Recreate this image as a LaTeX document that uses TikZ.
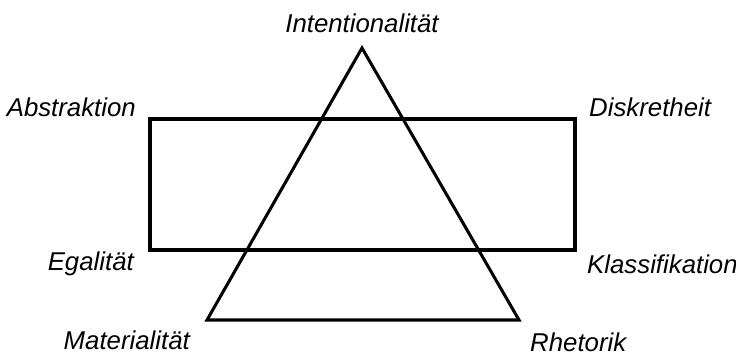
\documentclass[tikz,border=0pt]{standalone}
\usepackage{fontspec}
\setmainfont{Liberation Sans}
\usetikzlibrary{positioning}
\tikzset{
  lbl/.style={font=\fontsize{22}{26}\selectfont\itshape, inner sep=0pt},
  figline/.style={line width=2.6pt, line join=miter}
}
\begin{document}
\begin{tikzpicture}[x=0.03cm,y=-0.03cm]
\useasboundingbox (0,0) rectangle (736,355);
% corners
\coordinate (apex) at (362,48);
\coordinate (triL) at (207,320);
\coordinate (triR) at (519,320);
\coordinate (boxTL) at (150,119);
\coordinate (boxBR) at (575,250);
% shapes
\draw[figline] (boxTL) rectangle (boxBR);
\draw[figline] (apex) -- (triR) -- (triL) -- cycle;
% labels
\node[lbl] (intent) at (362,23) {Intentionalität};
\node[lbl, anchor=east] (abstr) at (136,107) {Abstraktion};
\node[lbl, anchor=west] (diskr) at (589,107) {Diskretheit};
\node[lbl, anchor=east] (egal) at (134,264) {Egalität};
\node[lbl, anchor=west] (klass) at (587,264) {Klassifikation};
\node[lbl, anchor=east] (mater) at (190,340) {Materialität};
\node[lbl, anchor=west] (rhet) at (530,342) {Rhetorik};
\end{tikzpicture}
\end{document}
